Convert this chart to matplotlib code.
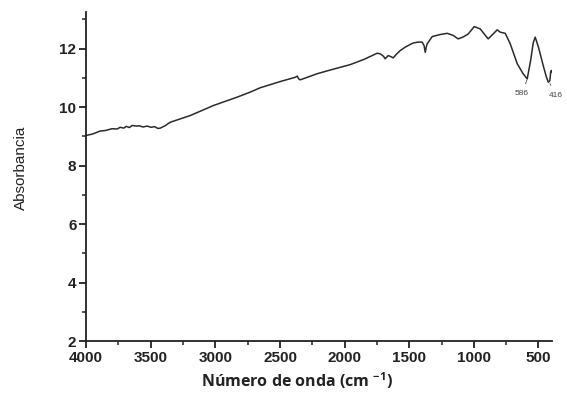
import matplotlib
matplotlib.use("Agg")
import matplotlib.pyplot as plt
from matplotlib.ticker import MultipleLocator

# FTIR spectrum (wavenumber in cm-1, absorbance)
wavenumber = [4000, 3950, 3892, 3850, 3800, 3760, 3737, 3710, 3690, 3665, 3644, 3610, 3590,
              3560, 3528, 3500, 3470, 3445, 3427, 3390, 3350,
              3195, 3017, 2831, 2731, 2653, 2500, 2380, 2367, 2355, 2344, 2300, 2212,
              2100, 1957, 1850, 1748, 1724, 1700, 1686, 1662, 1640, 1624, 1600, 1570,
              1530, 1492, 1469, 1430, 1400, 1385, 1376, 1368, 1361, 1322, 1260, 1206,
              1160, 1121, 1080, 1043, 997, 950, 920, 889, 850, 819, 796, 757, 718,
              664, 620, 587, 560, 540, 525, 500, 463, 440, 424, 412, 405, 400, 393]
absorb = [9.03, 9.08, 9.18, 9.20, 9.26, 9.25, 9.31, 9.28, 9.34, 9.30, 9.37, 9.35, 9.36,
          9.32, 9.35, 9.31, 9.33, 9.27, 9.28, 9.36, 9.48,
          9.71, 10.05, 10.34, 10.51, 10.66, 10.87, 11.02, 11.06, 10.96, 10.93, 11.00, 11.14,
          11.28, 11.45, 11.63, 11.84, 11.82, 11.74, 11.65, 11.76, 11.72, 11.68, 11.80, 11.93,
          12.05, 12.14, 12.19, 12.22, 12.22, 12.10, 11.87, 12.05, 12.16, 12.41, 12.48, 12.52,
          12.45, 12.33, 12.40, 12.50, 12.75, 12.67, 12.50, 12.33, 12.50, 12.64, 12.56, 12.52, 12.16,
          11.48, 11.15, 10.96, 11.60, 12.20, 12.39, 12.05, 11.42, 11.05, 10.85, 10.90, 11.20, 11.25, 11.19]

peaks = [586, 416]
peak_labels = ["586", "416"]
peak_y = [10.96, 10.85]

fig = plt.figure(figsize=(5.67, 3.99), dpi=100)
ax = fig.add_axes([0.152, 0.145, 0.822, 0.825])

ax.plot(wavenumber, absorb, color="#2a2a2a", lw=1.1)

# peak annotations with small leader lines
ax.annotate(peak_labels[0], xy=(peaks[0], peak_y[0]), xytext=(630, 10.45),
            fontsize=6, color="#444444", family="Liberation Sans", ha="center", va="center",
            arrowprops=dict(arrowstyle="-", color="#444444", lw=0.6, shrinkA=3, shrinkB=1))
ax.annotate(peak_labels[1], xy=(peaks[1], peak_y[1]), xytext=(365, 10.4),
            fontsize=6, color="#444444", family="Liberation Sans", ha="center", va="center",
            arrowprops=dict(arrowstyle="-", color="#444444", lw=0.6, shrinkA=3, shrinkB=1),
            annotation_clip=False)

ax.set_xlim(4000, 393)
ax.set_ylim(2, 13.25)
ax.xaxis.set_major_locator(MultipleLocator(500))
ax.xaxis.set_minor_locator(MultipleLocator(250))
ax.yaxis.set_major_locator(MultipleLocator(2))
ax.yaxis.set_minor_locator(MultipleLocator(1))

for s in ["top", "right"]:
    ax.spines[s].set_visible(False)
for s in ["left", "bottom"]:
    ax.spines[s].set_linewidth(1.3)
    ax.spines[s].set_color("#222222")

ax.tick_params(which="major", direction="out", length=5, width=1.3, colors="#222222", pad=2)
ax.tick_params(which="minor", direction="out", length=3, width=1.1, colors="#222222")
for lab in ax.get_xticklabels() + ax.get_yticklabels():
    lab.set_family("Liberation Sans")
    lab.set_fontsize(11)
    lab.set_fontweight("bold")
    lab.set_color("#222222")

ax.set_ylabel("Absorbancia", family="Liberation Sans", fontsize=11, color="#222222")
ax.yaxis.set_label_coords(-0.125, 0.526)
ax.set_xlabel("Número de onda (cm $^{\\mathregular{-1}}$)", family="Open Sans", fontsize=11.5,
              fontweight="bold", color="#222222")
ax.xaxis.set_label_coords(0.453, -0.09)

fig.savefig("out.png", dpi=100)
